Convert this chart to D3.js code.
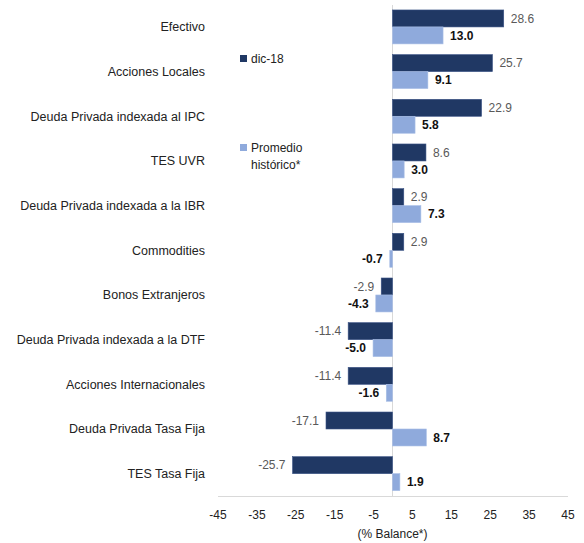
<!DOCTYPE html>
<html>
<head>
<meta charset="utf-8">
<script src="https://cdn.jsdelivr.net/npm/d3@7"></script>
<style>
  body { margin: 0; background: #fff; }
  svg { display: block; font-family: "Liberation Sans", Arial, sans-serif; }
</style>
</head>
<body>
<svg id="chart" width="584" height="543"></svg>
<script>
const categories = [
  "Efectivo",
  "Acciones Locales",
  "Deuda Privada indexada al IPC",
  "TES UVR",
  "Deuda Privada indexada a la IBR",
  "Commodities",
  "Bonos Extranjeros",
  "Deuda Privada indexada a la DTF",
  "Acciones Internacionales",
  "Deuda Privada Tasa Fija",
  "TES Tasa Fija"
];
const dic18 = [28.6, 25.7, 22.9, 8.6, 2.9, 2.9, -2.9, -11.4, -11.4, -17.1, -25.7];
const promedio = [13.0, 9.1, 5.8, 3.0, 7.3, -0.7, -4.3, -5.0, -1.6, 8.7, 1.9];
const tickValues = [-45, -35, -25, -15, -5, 5, 15, 25, 35, 45];
const seriesNames = ["dic-18", "Promedio histórico*"];
const colors = ["#203864", "#8faadc"];

// plain hyphen for negatives
const fmt1 = d => d3.format(".1f")(d).replace("\u2212", "-");
const fmt0 = d => d3.format("d")(d).replace("\u2212", "-");

const svg = d3.select("#chart");

const x = d3.scaleLinear().domain([-45, 45]).range([217.5, 567.5]);
const y = d3.scaleBand().domain(categories).range([4.6, 496]).paddingInner(0.24).paddingOuter(0.12);
const sub = d3.scaleBand().domain([0, 1]).range([0, y.bandwidth()]);

// zero reference line
svg.append("line")
  .attr("x1", x(0)).attr("x2", x(0))
  .attr("y1", 5).attr("y2", 496)
  .attr("stroke", "#d9d9d9").attr("stroke-width", 1);

// bottom axis
const axis = svg.append("g")
  .attr("transform", "translate(0,496)")
  .call(d3.axisBottom(x).tickValues(tickValues).tickSize(0).tickPadding(14).tickFormat(fmt0));
axis.select(".domain").attr("stroke", "#d9d9d9");
axis.selectAll("text").attr("font-size", 12).attr("fill", "#222")
  .attr("font-family", "'Liberation Sans', Arial, sans-serif");

svg.append("text")
  .attr("x", x(0)).attr("y", 538)
  .attr("text-anchor", "middle").attr("font-size", 12).attr("fill", "#222")
  .text("(% Balance*)");

// category labels
svg.append("g").selectAll("text")
  .data(categories)
  .join("text")
  .attr("x", 205)
  .attr("y", d => y(d) + y.bandwidth() / 2)
  .attr("dy", "0.35em")
  .attr("text-anchor", "end")
  .attr("font-size", 12.5)
  .attr("fill", "#222")
  .text(d => d);

// bars
const series = [dic18, promedio];
series.forEach((vals, si) => {
  const g = svg.append("g");
  g.selectAll("rect")
    .data(vals)
    .join("rect")
    .attr("x", d => Math.min(x(0), x(d)))
    .attr("y", (d, i) => y(categories[i]) + sub(si))
    .attr("width", d => Math.abs(x(d) - x(0)))
    .attr("height", sub.bandwidth())
    .attr("fill", colors[si])
    .attr("stroke", si === 0 ? "#3a5285" : "#a9bfe6")
    .attr("stroke-width", 0.6);

  g.selectAll("text")
    .data(vals)
    .join("text")
    .attr("x", d => d >= 0 ? x(d) + 7 : x(d) - 7)
    .attr("y", (d, i) => y(categories[i]) + sub(si) + sub.bandwidth() / 2)
    .attr("dy", "0.35em")
    .attr("text-anchor", d => d >= 0 ? "start" : "end")
    .attr("font-size", 12)
    .attr("font-weight", si === 0 ? "normal" : "bold")
    .attr("fill", si === 0 ? "#595959" : "#111")
    .text(fmt1);
});

// legend
const legend = svg.append("g");
legend.append("rect").attr("x", 240).attr("y", 55).attr("width", 7).attr("height", 7).attr("fill", colors[0]);
legend.append("text").attr("x", 251).attr("y", 59).attr("dy", "0.35em")
  .attr("font-size", 12).attr("fill", "#222").text(seriesNames[0]);
legend.append("rect").attr("x", 240).attr("y", 144).attr("width", 7).attr("height", 7).attr("fill", colors[1]);
legend.append("text").attr("x", 251).attr("y", 148).attr("dy", "0.35em")
  .attr("font-size", 12).attr("fill", "#222").text("Promedio");
legend.append("text").attr("x", 251).attr("y", 165).attr("dy", "0.35em")
  .attr("font-size", 12).attr("fill", "#222").text("histórico*");
</script>
</body>
</html>
